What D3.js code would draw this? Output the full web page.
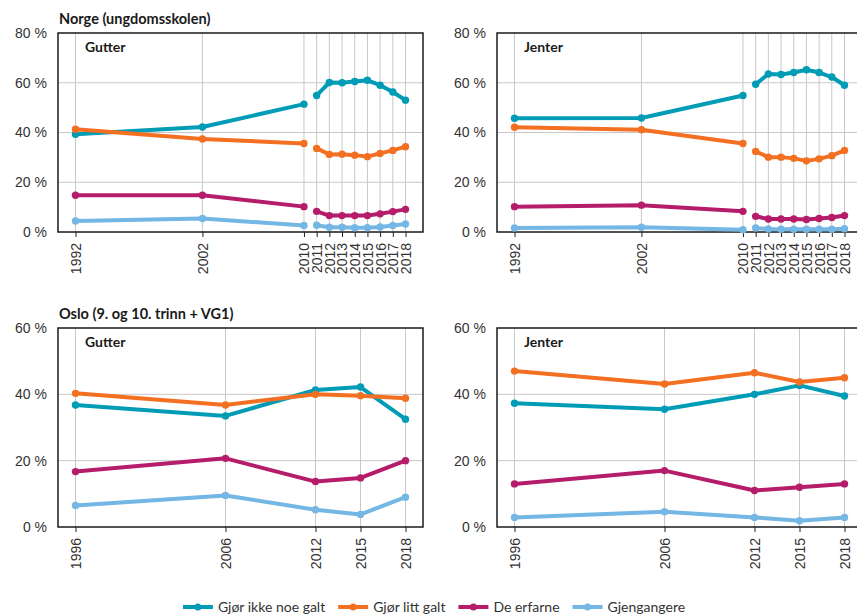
<!DOCTYPE html>
<html>
<head>
<meta charset="utf-8">
<script src="https://cdn.jsdelivr.net/npm/d3@7"></script>
<style>
  body { margin: 0; background: #fff; }
  svg { font-family: Lato, 'Open Sans', sans-serif; }
</style>
</head>
<body>
<div id="chart"></div>
<script>
// years
const yearsNorge = [1992, 2002, 2010, 2011, 2012, 2013, 2014, 2015, 2016, 2017, 2018]
const yearsOslo = [1996, 2006, 2012, 2015, 2018]
const seriesNames = ['Gjør ikke noe galt', 'Gjør litt galt', 'De erfarne', 'Gjengangere']

// Norge, gutter
const norgeGutterIkke = [39.3, 42.2, 51.4, 54.9, 60.1, 60.0, 60.5, 61.0, 59.0, 56.3, 53.0]
const norgeGutterLitt = [41.3, 37.4, 35.6, 33.6, 31.2, 31.3, 30.9, 30.3, 31.6, 32.8, 34.3]
const norgeGutterErfarne = [14.8, 14.8, 10.2, 8.3, 6.6, 6.6, 6.6, 6.6, 7.3, 8.2, 9.1]
const norgeGutterGjeng = [4.4, 5.4, 2.6, 2.7, 1.9, 1.9, 1.7, 1.7, 2.0, 2.6, 3.2]

// Norge, jenter
const norgeJenterIkke = [45.7, 45.8, 54.9, 59.4, 63.5, 63.3, 64.1, 65.2, 64.1, 62.3, 59.0]
const norgeJenterLitt = [42.1, 41.1, 35.6, 32.4, 30.1, 30.1, 29.6, 28.6, 29.4, 30.7, 32.8]
const norgeJenterErfarne = [10.2, 10.8, 8.3, 6.3, 5.2, 5.2, 5.2, 5.0, 5.4, 5.8, 6.6]
const norgeJenterGjeng = [1.6, 1.9, 0.9, 1.6, 1.2, 1.1, 1.1, 1.1, 1.1, 1.1, 1.3]

// Oslo, gutter
const osloGutterIkke = [36.8, 33.5, 41.3, 42.2, 32.5]
const osloGutterLitt = [40.3, 36.8, 40.0, 39.6, 38.8]
const osloGutterErfarne = [16.7, 20.7, 13.7, 14.8, 20.0]
const osloGutterGjeng = [6.5, 9.5, 5.2, 3.8, 9.0]

// Oslo, jenter
const osloJenterIkke = [37.3, 35.5, 40.0, 42.7, 39.5]
const osloJenterLitt = [47.0, 43.1, 46.5, 43.7, 45.0]
const osloJenterErfarne = [13.0, 17.0, 11.0, 12.0, 13.0]
const osloJenterGjeng = [2.9, 4.6, 2.9, 1.9, 2.9]

const colors = ['#009cb6', '#f36f21', '#b51c69', '#74b6e4']

const svg = d3.select('#chart')
  .append('svg')
  .attr('width', 857)
  .attr('height', 614)

const panelW = 365
const panelH = 199
const pad = 17.5

const panels = [
  { x: 58, y: 33, years: yearsNorge, max: 80, breakAfter: 2010, label: 'Gutter', title: 'Norge (ungdomsskolen)',
    series: [norgeGutterIkke, norgeGutterLitt, norgeGutterErfarne, norgeGutterGjeng] },
  { x: 497, y: 33, years: yearsNorge, max: 80, breakAfter: 2010, label: 'Jenter',
    series: [norgeJenterIkke, norgeJenterLitt, norgeJenterErfarne, norgeJenterGjeng] },
  { x: 58, y: 328, years: yearsOslo, max: 60, label: 'Gutter', title: 'Oslo (9. og 10. trinn + VG1)',
    series: [osloGutterIkke, osloGutterLitt, osloGutterErfarne, osloGutterGjeng] },
  { x: 497, y: 328, years: yearsOslo, max: 60, label: 'Jenter',
    series: [osloJenterIkke, osloJenterLitt, osloJenterErfarne, osloJenterGjeng] },
]

panels.forEach(p => {
  const g = svg.append('g')
    .attr('transform', `translate(${p.x}, ${p.y})`)

  const x = d3.scaleLinear()
    .domain(d3.extent(p.years))
    .range([pad, panelW - pad])
  const y = d3.scaleLinear()
    .domain([0, p.max])
    .range([panelH, 0])

  // grid
  g.append('g')
    .selectAll('line.v')
    .data(p.years)
    .join('line')
      .attr('x1', d => x(d)).attr('x2', d => x(d))
      .attr('y1', 0).attr('y2', panelH)
      .attr('stroke', '#c8c8c8')
      .attr('stroke-width', 1)
  g.append('g')
    .selectAll('line.h')
    .data(d3.range(20, p.max, 20))
    .join('line')
      .attr('x1', 0).attr('x2', panelW)
      .attr('y1', d => y(d)).attr('y2', d => y(d))
      .attr('stroke', '#c8c8c8')
      .attr('stroke-width', 1)

  // x axis
  const xAxis = g.append('g')
    .attr('transform', `translate(0, ${panelH})`)
    .call(d3.axisBottom(x).tickValues(p.years).tickFormat(d3.format('d')).tickSize(5))
  xAxis.select('.domain').remove()
  xAxis.selectAll('line').attr('stroke', '#222')
  xAxis.selectAll('text')
    .attr('font-size', '14px')
    .attr('fill', '#333')
    .attr('transform', 'rotate(-90)')
    .attr('text-anchor', 'end')
    .attr('x', -11)
    .attr('y', 0)
    .attr('dy', '0.35em')

  // y axis
  const yAxis = g.append('g')
    .call(d3.axisLeft(y).tickValues(d3.range(0, p.max + 1, 20)).tickFormat(d => `${d} %`).tickSize(0).tickPadding(11))
  yAxis.select('.domain').remove()
  yAxis.selectAll('text')
    .attr('font-size', '14px')
    .attr('fill', '#333')

  // frame
  g.append('rect')
    .attr('width', panelW)
    .attr('height', panelH)
    .attr('fill', 'none')
    .attr('stroke', '#1a1a1a')
    .attr('stroke-width', 1.5)

  const line = d3.line()
    .x(d => x(d.year))
    .y(d => y(d.value))

  p.series.forEach((values, i) => {
    const pts = p.years.map((year, j) => ({ year, value: values[j] }))
    // Norge series are broken between 2010 and 2011
    const segments = p.breakAfter
      ? [pts.filter(d => d.year <= p.breakAfter), pts.filter(d => d.year > p.breakAfter)]
      : [pts]
    segments.forEach(seg => {
      g.append('path')
        .datum(seg)
        .attr('d', line)
        .attr('fill', 'none')
        .attr('stroke', colors[i])
        .attr('stroke-width', 4)
        .attr('stroke-linejoin', 'round')
    })
    g.append('g')
      .selectAll('circle')
      .data(pts)
      .join('circle')
        .attr('cx', d => x(d.year))
        .attr('cy', d => y(d.value))
        .attr('r', 3.7)
        .attr('fill', colors[i])
  })

  g.append('text')
    .attr('x', 27)
    .attr('y', 19)
    .attr('font-size', '14px')
    .attr('font-weight', 'bold')
    .attr('fill', '#1a1a1a')
    .text(p.label)

  if (p.title) {
    svg.append('text')
      .attr('x', 59)
      .attr('y', p.y - 9)
      .attr('font-size', '14.5px')
      .attr('font-weight', 'bold')
      .attr('fill', '#1a1a1a')
      .text(p.title)
  }
})

// legend
const legend = svg.append('g')
  .attr('transform', 'translate(0, 607)')
const items = legend.selectAll('g')
  .data(seriesNames)
  .join('g')
items.append('line')
  .attr('x1', 0).attr('x2', 30)
  .attr('stroke', (d, i) => colors[i])
  .attr('stroke-width', 4)
items.append('circle')
  .attr('cx', 15)
  .attr('r', 3.5)
  .attr('fill', (d, i) => colors[i])
items.append('text')
  .attr('x', 35)
  .attr('dy', '0.35em')
  .attr('font-size', '14px')
  .attr('fill', '#333')
  .text(d => d)

let lx = 0
const offsets = []
items.each(function () {
  offsets.push(lx)
  lx += 35 + this.querySelector('text').getComputedTextLength() + 13
})
const totalW = lx - 13
const startX = 434 - totalW / 2
items.attr('transform', (d, i) => `translate(${startX + offsets[i]}, 0)`)
</script>
</body>
</html>
